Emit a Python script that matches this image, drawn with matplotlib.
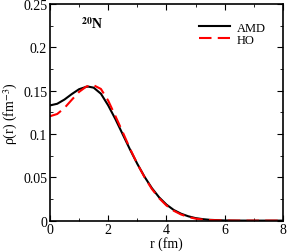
import matplotlib
matplotlib.use("Agg")
import matplotlib.pyplot as plt
from matplotlib.ticker import MultipleLocator, FormatStrFormatter

plt.rcParams['font.family'] = ['Liberation Serif', 'DejaVu Serif']
plt.rcParams['mathtext.fontset'] = 'stix'

# densities
r_amd = [0.0, 0.25, 0.5, 0.75, 1.0, 1.25, 1.32, 1.5, 1.75, 2.0, 2.25, 2.5,
         2.75, 3.0, 3.25, 3.5, 3.75, 4.0, 4.25, 4.5, 4.75, 5.0, 5.25, 5.5,
         6.0, 6.5, 7.0, 8.0]
rho_amd = [0.1330, 0.1349, 0.1398, 0.1461, 0.1517, 0.1545, 0.1547, 0.1535,
           0.1465, 0.1330, 0.1170, 0.0995, 0.0820, 0.0655, 0.0505, 0.0375,
           0.0268, 0.0185, 0.0123, 0.0080, 0.0050, 0.0029, 0.0017, 0.0009,
           0.0002, 0.00005, 0.0, 0.0]

r_ho = [0.0, 0.25, 0.5, 0.75, 1.0, 1.25, 1.45, 1.5, 1.75, 2.0, 2.25, 2.5,
        2.75, 3.0, 3.25, 3.5, 3.75, 4.0, 4.25, 4.5, 4.75, 5.0, 5.25, 5.5,
        6.0, 6.5, 7.0, 8.0]
rho_ho = [0.1205, 0.1231, 0.1301, 0.1395, 0.1486, 0.1548, 0.1565, 0.1563,
          0.1520, 0.1385, 0.1205, 0.1020, 0.0830, 0.0655, 0.0500, 0.0365,
          0.0258, 0.0175, 0.0114, 0.0071, 0.0042, 0.0023, 0.0012, 0.0006,
          0.0001, 0.0, 0.0, 0.0]

fig = plt.figure(figsize=(2.87, 2.53), dpi=100)
ax = fig.add_axes([0.174, 0.124, 0.812, 0.856])

ax.plot(r_amd, rho_amd, color='black', lw=1.5, label='AMD')
ax.plot(r_ho, rho_ho, color='red', lw=1.5, dashes=(6, 3), label='HO')

ax.set_xlim(0, 8)
ax.set_ylim(0, 0.25)
ax.xaxis.set_major_locator(MultipleLocator(2))
ax.xaxis.set_minor_locator(MultipleLocator(1))
ax.yaxis.set_major_locator(MultipleLocator(0.05))
ax.yaxis.set_minor_locator(MultipleLocator(0.025))
ax.yaxis.set_major_formatter(FormatStrFormatter('%g'))
ax.tick_params(which='both', direction='in', top=True, right=True, labelsize=10, pad=2)
ax.tick_params(which='major', length=4)
ax.tick_params(which='minor', length=2)
for s in ax.spines.values():
    s.set_linewidth(1.2)

ax.set_xlabel('r (fm)', fontsize=10, labelpad=0)
ax.set_ylabel('ρ(r) (fm$^{-3}$)', fontsize=10, labelpad=2)

ax.text(1.45, 0.228, r'$^{\mathbf{20}}$N', fontsize=10, fontweight='bold', ha='center', va='center')

ax.legend(loc='upper right', frameon=False, fontsize=9, handlelength=2.5,
          handletextpad=0.5, labelspacing=0.0, borderaxespad=1.0)

fig.savefig('out.png', dpi=100)
